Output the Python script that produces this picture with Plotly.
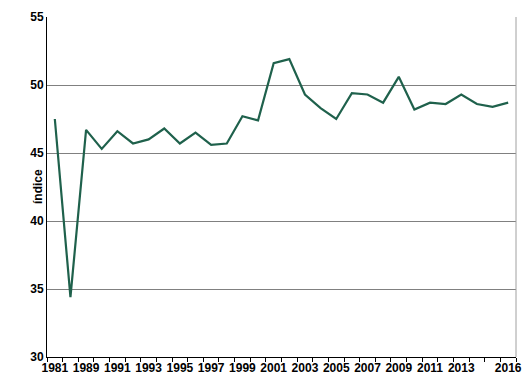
import plotly.graph_objects as go

categories = ["1981", "1985", "1989", "1990", "1991", "1992", "1993", "1994", "1995", "1996",
              "1997", "1998", "1999", "2000", "2001", "2002", "2003", "2004", "2005", "2006",
              "2007", "2008", "2009", "2010", "2011", "2012", "2013", "2014", "2015", "2016"]
values = [47.5, 34.4, 46.7, 45.3, 46.6, 45.7, 46.0, 46.8, 45.7, 46.5,
          45.6, 45.7, 47.7, 47.4, 51.6, 51.9, 49.3, 48.3, 47.5, 49.4,
          49.3, 48.7, 50.6, 48.2, 48.7, 48.6, 49.3, 48.6, 48.4, 48.7]
tick_labels = ["1981", "", "1989", "", "1991", "", "1993", "", "1995", "",
               "1997", "", "1999", "", "2001", "", "2003", "", "2005", "",
               "2007", "", "2009", "", "2011", "", "2013", "", "", "2016"]
y_ticks = [30, 35, 40, 45, 50, 55]
y_title = "índice"

fig = go.Figure()
fig.add_trace(go.Scatter(x=categories, y=values, mode="lines",
                         line=dict(color="#1f614c", width=2.2), showlegend=False))

tf = dict(family="Liberation Sans", size=12, weight="bold", color="black")

# the page body has an 8px margin, so the figure is sized/offset to compensate
fig.update_layout(
    width=523, height=382,
    margin=dict(l=39, r=15, t=9, b=33),
    paper_bgcolor="white", plot_bgcolor="white",
    font=dict(family="Liberation Sans", size=12, color="black"),
    xaxis=dict(type="category", categoryorder="array", categoryarray=categories,
               tickmode="array", tickvals=categories, ticktext=tick_labels,
               tickson="boundaries", ticks="outside", ticklen=4, tickcolor="black",
               showline=True, linecolor="black", linewidth=1, showgrid=False,
               tickangle=0, tickfont=tf, automargin=False,
               range=[-0.5, len(categories) - 0.5]),
    yaxis=dict(range=[30, 55], tickvals=y_ticks, showgrid=True, gridcolor="#808080",
               gridwidth=1, showline=True, linecolor="black", linewidth=1,
               ticks="", tickfont=tf, zeroline=False, automargin=False),
    annotations=[dict(text=y_title, xref="paper", yref="paper", x=0, y=0.5,
                      xanchor="center", yanchor="middle", xshift=-9, textangle=-90,
                      showarrow=False, font=tf)],
    shapes=[dict(type="line", xref="paper", yref="paper", x0=1, x1=1, y0=0, y1=1,
                 line=dict(color="#a0a0a0", width=1))],
)

fig.write_html("out.html")
